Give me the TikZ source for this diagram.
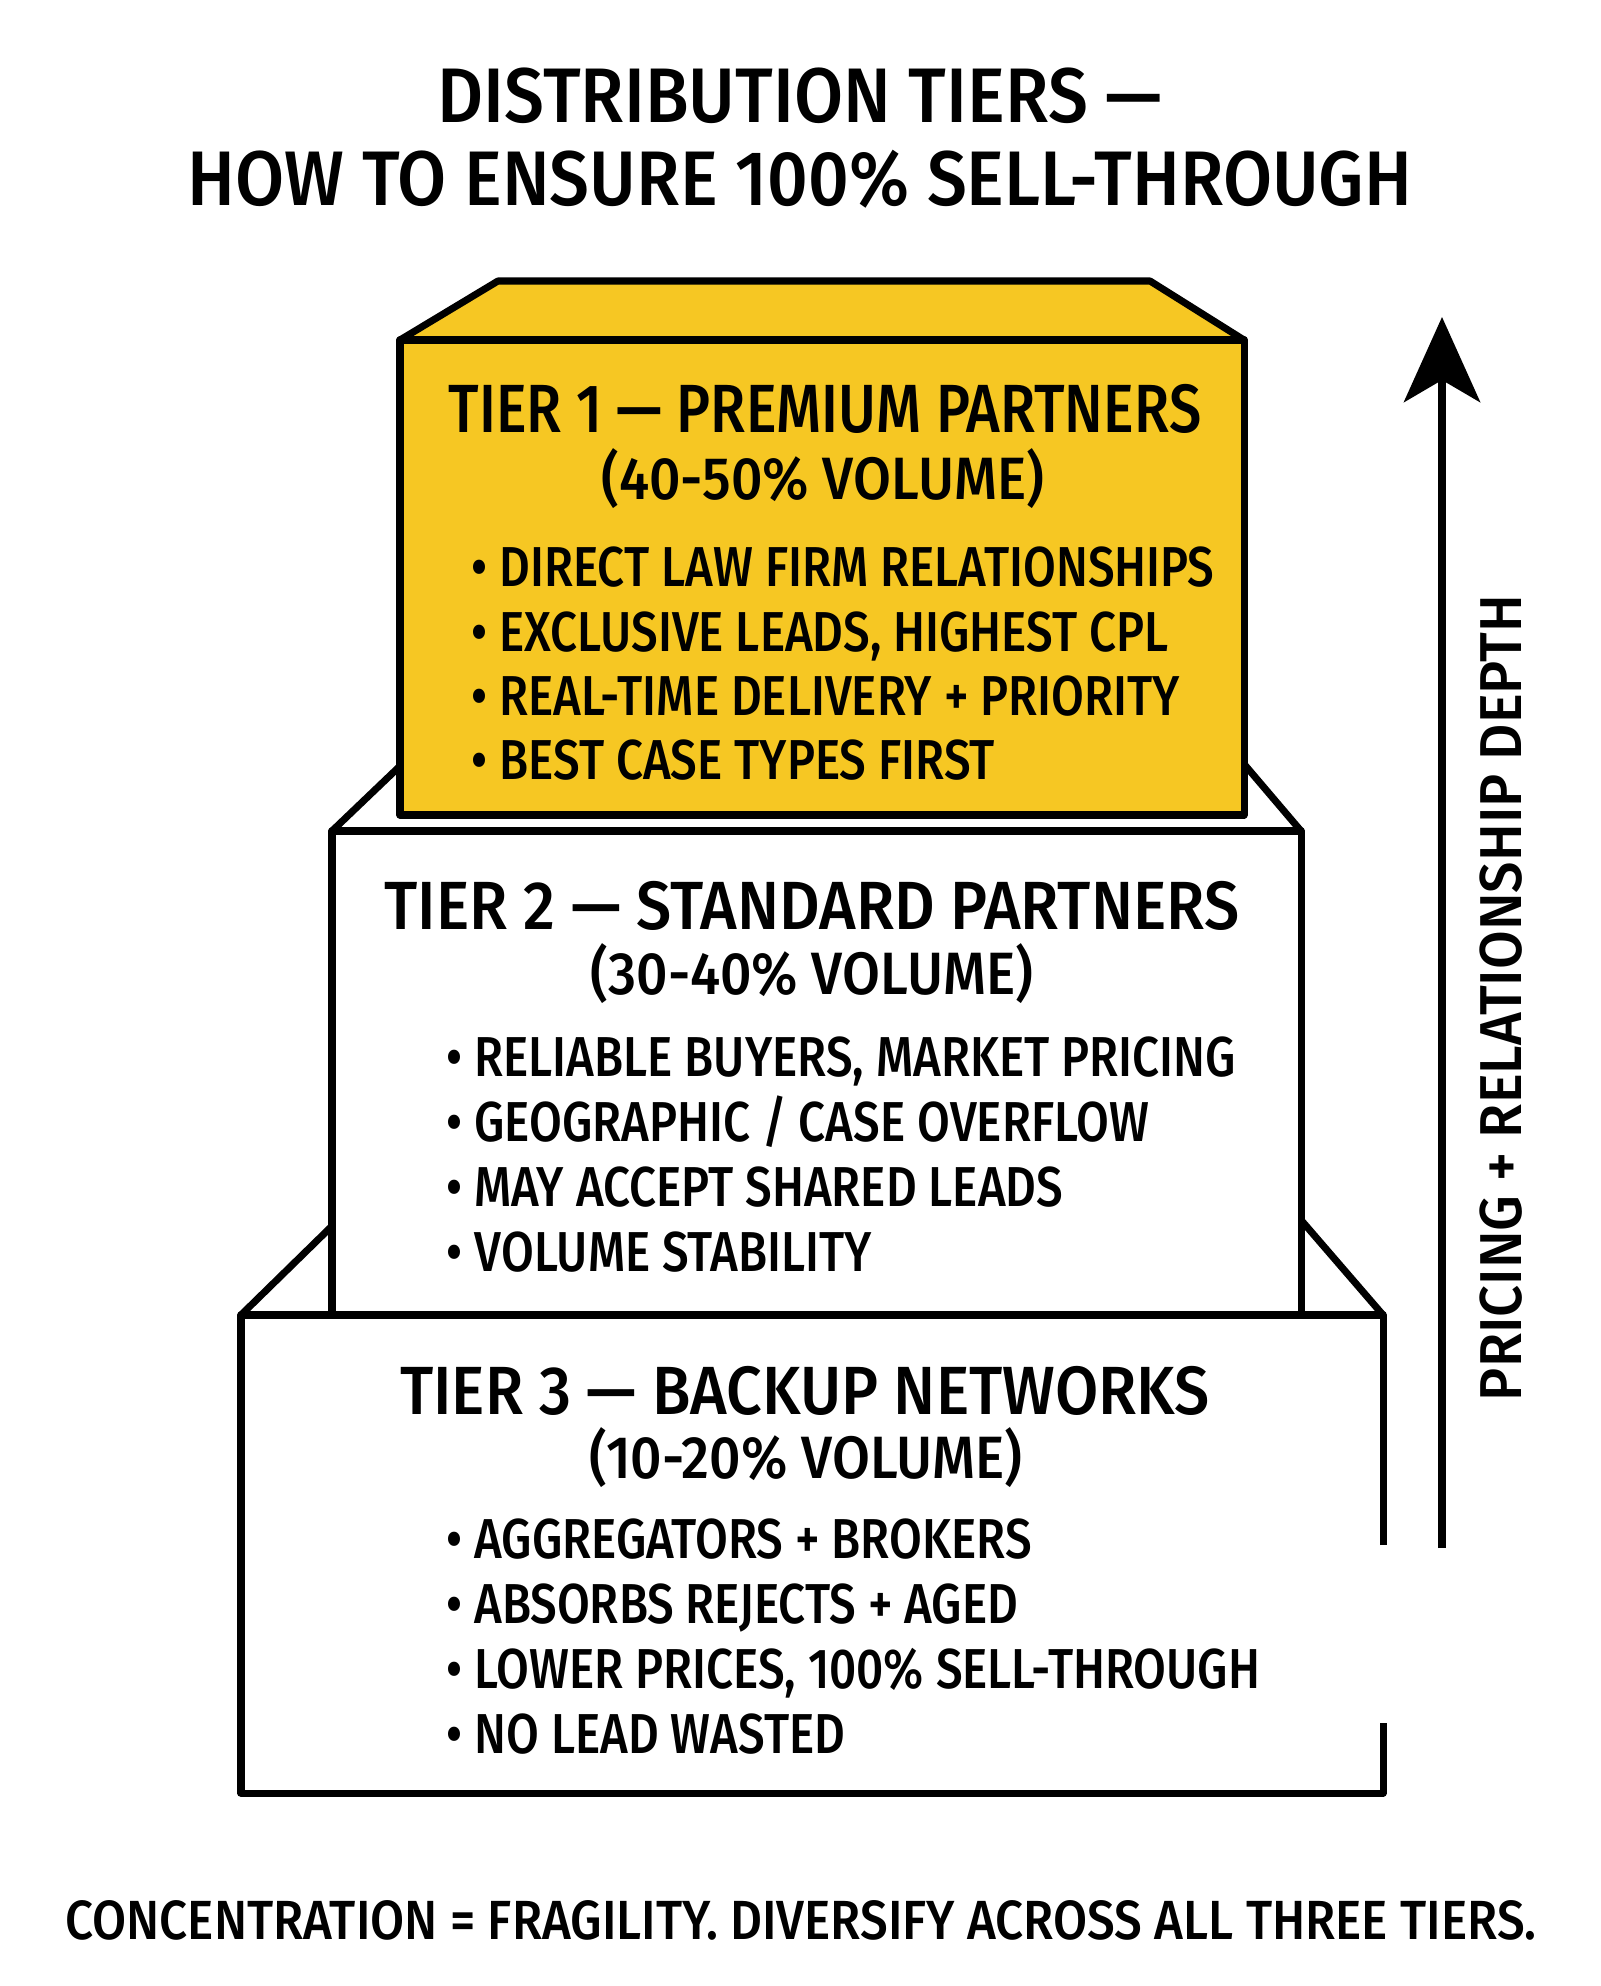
\documentclass[tikz,border=0pt]{standalone}
\usepackage{fontspec}
\setmainfont{Fira Sans}[FakeStretch=0.845, UprightFont=* Medium]
\newfontfamily\widefont{Fira Sans}[FakeStretch=0.92, UprightFont=* Medium]
\newfontfamily\footfont{Fira Sans}[FakeStretch=0.895, UprightFont=* Medium]
\newfontfamily\labelfont{Fira Sans}[FakeStretch=0.95, UprightFont=* Medium]
\usepackage{xcolor}
\usepackage{tikz}
\usetikzlibrary{arrows.meta,positioning}

\definecolor{tieryellow}{RGB}{246,199,35}

\begin{document}
\begin{tikzpicture}[
    x=0.01cm, y=-0.01cm,
    line join=round,
    tierline/.style={draw=black, line width=2pt},
    titletext/.style={anchor=base, font=\widefont\fontsize{22}{26}\selectfont},
    heading/.style={anchor=base, font=\widefont\fontsize{19.4}{22}\selectfont},
    volume/.style={anchor=base, font=\widefont\fontsize{17}{20}\selectfont},
    bullet/.style={anchor=base west, inner sep=0pt, font=\fontsize{16}{19}\selectfont},
    uparrow/.style={-{Stealth[length=8.5mm, width=7.6mm, inset=2.2mm]}, line width=2.3pt}
]
    \useasboundingbox (0,0) rectangle (1600,1986);

    % title
    \node [titletext] (title1) at (800,123) {DISTRIBUTION TIERS —};
    \node [titletext] (title2) at (800,206) {HOW TO ENSURE 100\% SELL-THROUGH};

    % tier 3 (bottom)
    \fill [white] (241,1315) -- (332,1226) -- (1301,1220) -- (1383,1315) -- cycle;
    \draw [tierline] (241,1315) -- (332,1226) (1301,1220) -- (1383,1315);
    \fill [white] (241,1315) rectangle (1383,1793);
    \draw [tierline] (1383,1545) -- (1383,1315) -- (241,1315) -- (241,1793) -- (1383,1793) -- (1383,1723);

    % tier 2
    \draw [tierline, fill=white] (332,831) -- (400,766) -- (1244,764) -- (1301,831) -- cycle;
    \draw [tierline, fill=white] (332,831) rectangle (1301,1315);

    % tier 1 (top)
    \draw [tierline, fill=tieryellow] (400,340) -- (498,281) -- (1150,281) -- (1244,340) -- cycle;
    \draw [tierline, fill=tieryellow] (400,340) rectangle (1244,815);

    % tier texts
    \node [heading, font=\fontsize{19.4}{22}\selectfont] (t1head) at (825,433) {TIER 1 — PREMIUM PARTNERS};
    \node [volume] (t1vol) at (823,500) {(40-50\% VOLUME)};
    \foreach \txt [count=\i] in {DIRECT LAW FIRM RELATIONSHIPS, {EXCLUSIVE LEADS, HIGHEST CPL}, REAL-TIME DELIVERY + PRIORITY, BEST CASE TYPES FIRST}
        \node [bullet] (t1b\i) at (471,587+64.3*\i-64.3) {• \txt};

    \node [heading] (t2head) at (812,929) {TIER 2 — STANDARD PARTNERS};
    \node [volume] (t2vol) at (812,994) {(30-40\% VOLUME)};
    \foreach \txt [count=\i] in {{RELIABLE BUYERS, MARKET PRICING}, GEOGRAPHIC / CASE OVERFLOW, MAY ACCEPT SHARED LEADS, VOLUME STABILITY}
        \node [bullet] (t2b\i) at (446,1076+65*\i-65) {• \txt};

    \node [heading] (t3head) at (805,1414) {TIER 3 — BACKUP NETWORKS};
    \node [volume] (t3vol) at (806,1478) {(10-20\% VOLUME)};
    \foreach \txt [count=\i] in {AGGREGATORS + BROKERS, ABSORBS REJECTS + AGED, {LOWER PRICES, 100\% SELL-THROUGH}, NO LEAD WASTED}
        \node [bullet] (t3b\i) at (446,1558+65*\i-65) {• \txt};

    % side arrow
    \coordinate (arrowfoot) at (1442,1548);
    \coordinate (arrowtip) at (1442,317);
    \draw [uparrow] (arrowfoot) -- (arrowtip);
    \node [rotate=90, font=\labelfont\fontsize{16.8}{20}\selectfont] (depthlabel) at (1501,998) {PRICING + RELATIONSHIP DEPTH};

    % footer
    \node [anchor=base, font=\footfont\fontsize{15.7}{19}\selectfont] (footer) at (801,1939) {CONCENTRATION = FRAGILITY. DIVERSIFY ACROSS ALL THREE TIERS.};
\end{tikzpicture}
\end{document}
